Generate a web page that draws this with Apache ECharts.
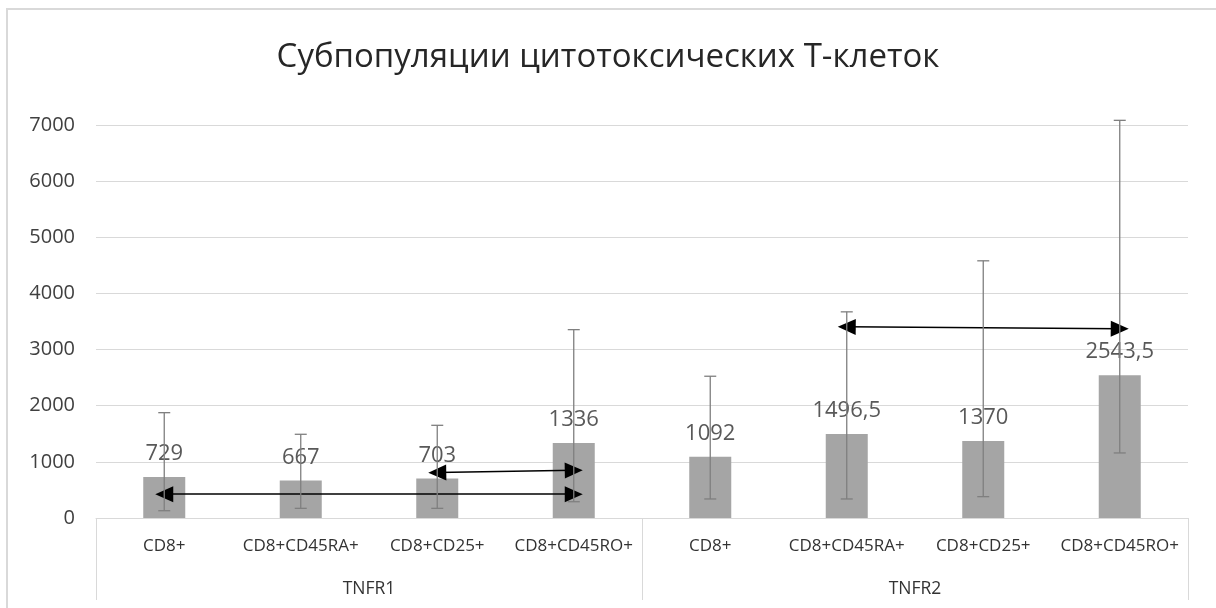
<!DOCTYPE html>
<html>
<head>
<meta charset="utf-8">
<script src="https://cdn.jsdelivr.net/npm/echarts@6/dist/echarts.min.js"></script>
<style>
  html, body { margin: 0; padding: 0; background: #fff; }
  #frame { position: absolute; left: 6px; top: 8px; width: 1220px; height: 620px;
           border-left: 2px solid #d9d9d9; border-top: 2px solid #d9d9d9; }
  #chart { position: absolute; left: 0; top: 0; width: 1216px; height: 608px; }
</style>
</head>
<body>
<div id="frame"></div>
<div id="chart"></div>
<script>
// категории и группы
var categories = ['CD8+', 'CD8+CD45RA+', 'CD8+CD25+', 'CD8+CD45RO+',
                  'CD8+', 'CD8+CD45RA+', 'CD8+CD25+', 'CD8+CD45RO+'];
var groups = ['TNFR1', 'TNFR2'];
var yTicks = [0, 1000, 2000, 3000, 4000, 5000, 6000, 7000];

// медианы
var medians = [729, 667, 703, 1336, 1092, 1496.5, 1370, 2543.5];
// нижняя и верхняя граница (усы)
var errLow  = [130, 172, 172, 290, 339, 339, 380, 1159];
var errHigh = [1876, 1491, 1651, 3355, 2525, 3672, 4581, 7083];

// стрелки: [от категории, значение, до категории, значение]
var arrows = [
    [0, 425, 3, 425],
    [2, 810, 3, 850],
    [5, 3405, 7, 3370]
];

var errData = [];
for (var i = 0; i < medians.length; i++) {
    errData.push([i, errLow[i], errHigh[i]]);
}

var arrowLines = arrows.map(function (a) {
    return [{coord: [a[0], a[1]]}, {coord: [a[2], a[3]]}];
});

var myChart = echarts.init(document.getElementById('chart'));

var option = {
    animation: false,
    title: {
        text: 'Субпопуляции цитотоксических Т-клеток',
        left: 'center',
        top: 36,
        textStyle: {
            fontFamily: 'Open Sans',
            fontSize: 33,
            fontWeight: 'normal',
            color: '#262626'
        }
    },
    grid: {
        left: 96,
        right: 28,
        top: 125,
        bottom: 90
    },
    xAxis: [
        {
            type: 'category',
            data: categories,
            position: 'bottom',
            axisLine: {lineStyle: {color: '#d9d9d9', width: 1}},
            axisTick: {show: false},
            axisLabel: {
                interval: 0,
                margin: 20,
                fontFamily: 'Open Sans',
                fontSize: 17,
                color: '#333333'
            }
        },
        {
            type: 'category',
            data: groups,
            position: 'bottom',
            axisLine: {show: false},
            axisTick: {show: true, length: 82, lineStyle: {color: '#d9d9d9', width: 1}},
            axisLabel: {
                margin: 62,
                fontFamily: 'Open Sans',
                fontSize: 17.5,
                color: '#333333'
            }
        }
    ],
    yAxis: {
        type: 'value',
        min: yTicks[0],
        max: yTicks[yTicks.length - 1],
        interval: 1000,
        axisLine: {show: false},
        axisTick: {show: false},
        splitLine: {lineStyle: {color: '#d9d9d9', width: 1}},
        axisLabel: {
            margin: 21,
            fontFamily: 'Open Sans',
            fontSize: 20,
            color: '#404040',
            formatter: function (v) { return String(v); }
        }
    },
    series: [
        {
            name: 'медиана',
            type: 'bar',
            xAxisIndex: 0,
            data: medians,
            barWidth: 42,
            itemStyle: {color: '#a5a5a5'},
            label: {
                show: true,
                position: 'top',
                distance: 12,
                fontFamily: 'Open Sans',
                fontSize: 22,
                color: '#595959',
                formatter: function (p) {
                    return String(p.value).replace('.', ',');
                }
            },
            markLine: {
                silent: true,
                symbol: ['triangle', 'triangle'],
                symbolSize: [16, 18],
                label: {show: false},
                lineStyle: {color: '#000', width: 1.5, type: 'solid'},
                emphasis: {disabled: true},
                data: arrowLines
            }
        },
        {
            name: 'разброс',
            type: 'custom',
            xAxisIndex: 0,
            z: 5,
            data: errData,
            renderItem: function (params, api) {
                var x = api.value(0);
                var lo = api.coord([x, api.value(1)]);
                var hi = api.coord([x, api.value(2)]);
                var cap = 6;
                var st = {stroke: '#7f7f7f', lineWidth: 1.3};
                return {
                    type: 'group',
                    children: [
                        {type: 'line', shape: {x1: hi[0], y1: hi[1], x2: lo[0], y2: lo[1]}, style: st},
                        {type: 'line', shape: {x1: hi[0] - cap, y1: hi[1], x2: hi[0] + cap, y2: hi[1]}, style: st},
                        {type: 'line', shape: {x1: lo[0] - cap, y1: lo[1], x2: lo[0] + cap, y2: lo[1]}, style: st}
                    ]
                };
            }
        }
    ]
};

myChart.setOption(option);
</script>
</body>
</html>
